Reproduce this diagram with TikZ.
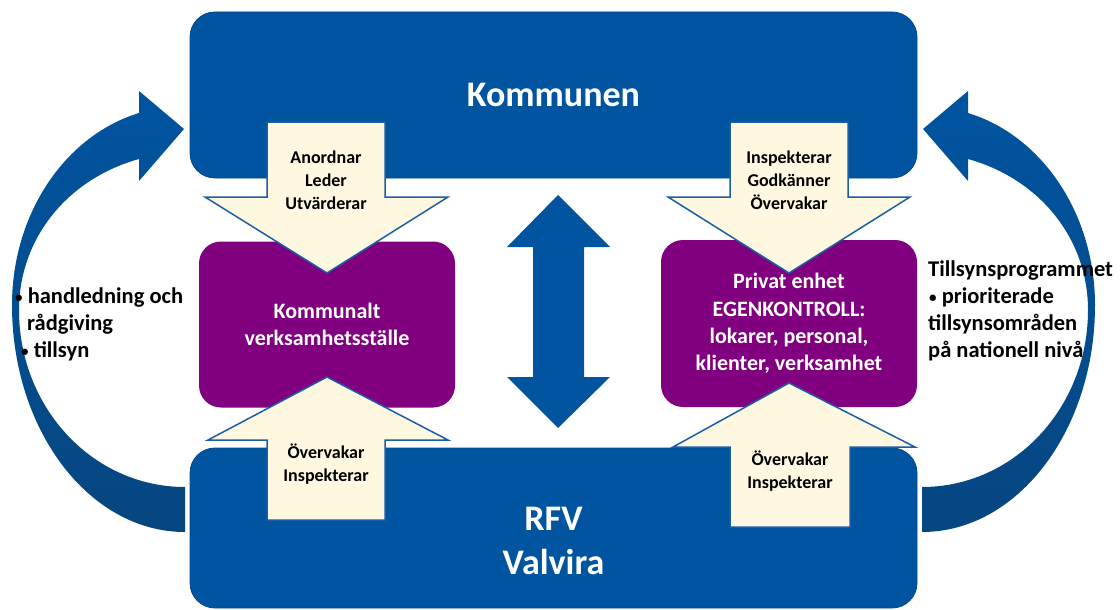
\documentclass[tikz,border=0pt]{standalone}
\usepackage{fontspec}
\setmainfont{Carlito}
\usepackage{tikz}
\usetikzlibrary{positioning}
\definecolor{rfvblue}{RGB}{0,84,160}
\definecolor{darkblue}{RGB}{6,70,128}
\definecolor{unitpurple}{RGB}{128,0,128}
\definecolor{cream}{RGB}{255,248,225}
\definecolor{edgeblue}{RGB}{28,94,165}
\newcommand{\smallbullet}{\raisebox{1.5pt}{\fontsize{15}{15}\selectfont\textbullet}}
\tikzset{
    %Define style for boxes
    bluebox/.style={
           rectangle,
           rounded corners=25pt,
           fill=rfvblue,
           draw=rfvblue!85!black, line width=0.8pt,
           text=white,
           font=\fontsize{36}{44}\selectfont\bfseries,
           align=center},
    purplebox/.style={
           rectangle,
           rounded corners=22pt,
           fill=unitpurple,
           minimum width=256, minimum height=166,
           text=white,
           font=\fontsize{22}{27.3}\selectfont\bfseries,
           align=center},
    % Define arrow styles
    creamarrow/.style={
           fill=cream,
           draw=edgeblue, line width=1.5pt},
    bigarrow/.style={
           top color=rfvblue,
           bottom color=darkblue},
    arrowtext/.style={
           align=center,
           font=\fontsize{18}{23}\selectfont\bfseries},
    sidetext/.style={
           align=left,
           anchor=north west,
           inner sep=0pt,
           font=\fontsize{22.5}{27}\selectfont\bfseries}
}
\begin{document}
\begin{tikzpicture}[x=1pt,y=-1pt]
\useasboundingbox (0,0) rectangle (1120,610);
% curved arrows behind the boxes
\path[bigarrow] (185,532) .. controls (89,532) and (12,430) .. (12,305)
	.. controls (12,215) and (64,136) .. (139,113) -- (139,91) -- (184,129)
	-- (139,181) -- (139,159) .. controls (67,179) and (19,239) .. (19,310)
	.. controls (19,408) and (93,487) .. (185,487) -- cycle;
\path[bigarrow] (922,532) .. controls (1018,532) and (1095,430) .. (1095,305)
	.. controls (1095,215) and (1043,136) .. (968,113) -- (968,91) -- (923,129)
	-- (968,181) -- (968,159) .. controls (1040,179) and (1088,239) .. (1088,310)
	.. controls (1088,408) and (1014,487) .. (922,487) -- cycle;
% boxes
\node[bluebox, minimum width=727, minimum height=166] (kommunen) at (553.5,95) {Kommunen};
\node[bluebox, minimum width=727, minimum height=160] (rfv) at (553.5,528) {};
\node[purplebox] (kommunalt) at (327,324.5) {Kommunalt\\verksamhetsställe};
\node[purplebox, minimum height=167] (privat) at (789,323.5) {Privat enhet\\EGENKONTROLL:\\lokarer, personal,\\klienter, verksamhet};
\node[text=white, font=\fontsize{36}{44}\selectfont\bfseries, align=center] (rfvtext) at (553.5,541) {RFV\\Valvira};
% double arrow between the units
\fill[rfvblue] (558,195) -- (610,247) -- (584,247) -- (584,377) -- (610,377) -- (558,428)
	-- (507,377) -- (533,377) -- (533,247) -- (507,247) -- cycle;
% block arrows
\draw[creamarrow] (267,122) -- (385,122) -- (385,197) -- (448,197) -- (327,273) -- (205,197) -- (267,197) -- cycle;
\draw[creamarrow] (730,122) -- (848,122) -- (848,197) -- (910,197) -- (789,273) -- (668,197) -- (730,197) -- cycle;
\draw[creamarrow] (267,520) -- (385,520) -- (385,440) -- (448,440) -- (327,377) -- (208,440) -- (267,440) -- cycle;
\draw[creamarrow] (730,527) -- (850,527) -- (850,447) -- (915,447) -- (789,383) -- (673,447) -- (730,447) -- cycle;
\node[arrowtext] (leder) at (326,180) {Anordnar\\Leder\\Utvärderar};
\node[arrowtext] (godkanner) at (789,180) {Inspekterar\\Godkänner\\Övervakar};
\node[arrowtext] (overvakar1) at (326,464.5) {Övervakar\\Inspekterar};
\node[arrowtext] (overvakar2) at (790,471.5) {Övervakar\\Inspekterar};
% side texts
\node[sidetext] (handledning) at (15,288) {\smallbullet\ handledning och\\\hspace*{12pt}rådgiving\\\hspace*{6pt}\smallbullet\ tillsyn};
\node[sidetext] (program) at (928,261) {Tillsynsprogrammet\\\hspace*{1pt}\smallbullet\ prioriterade\\tillsynsområden\\på nationell nivå};
\end{tikzpicture}
\end{document}
